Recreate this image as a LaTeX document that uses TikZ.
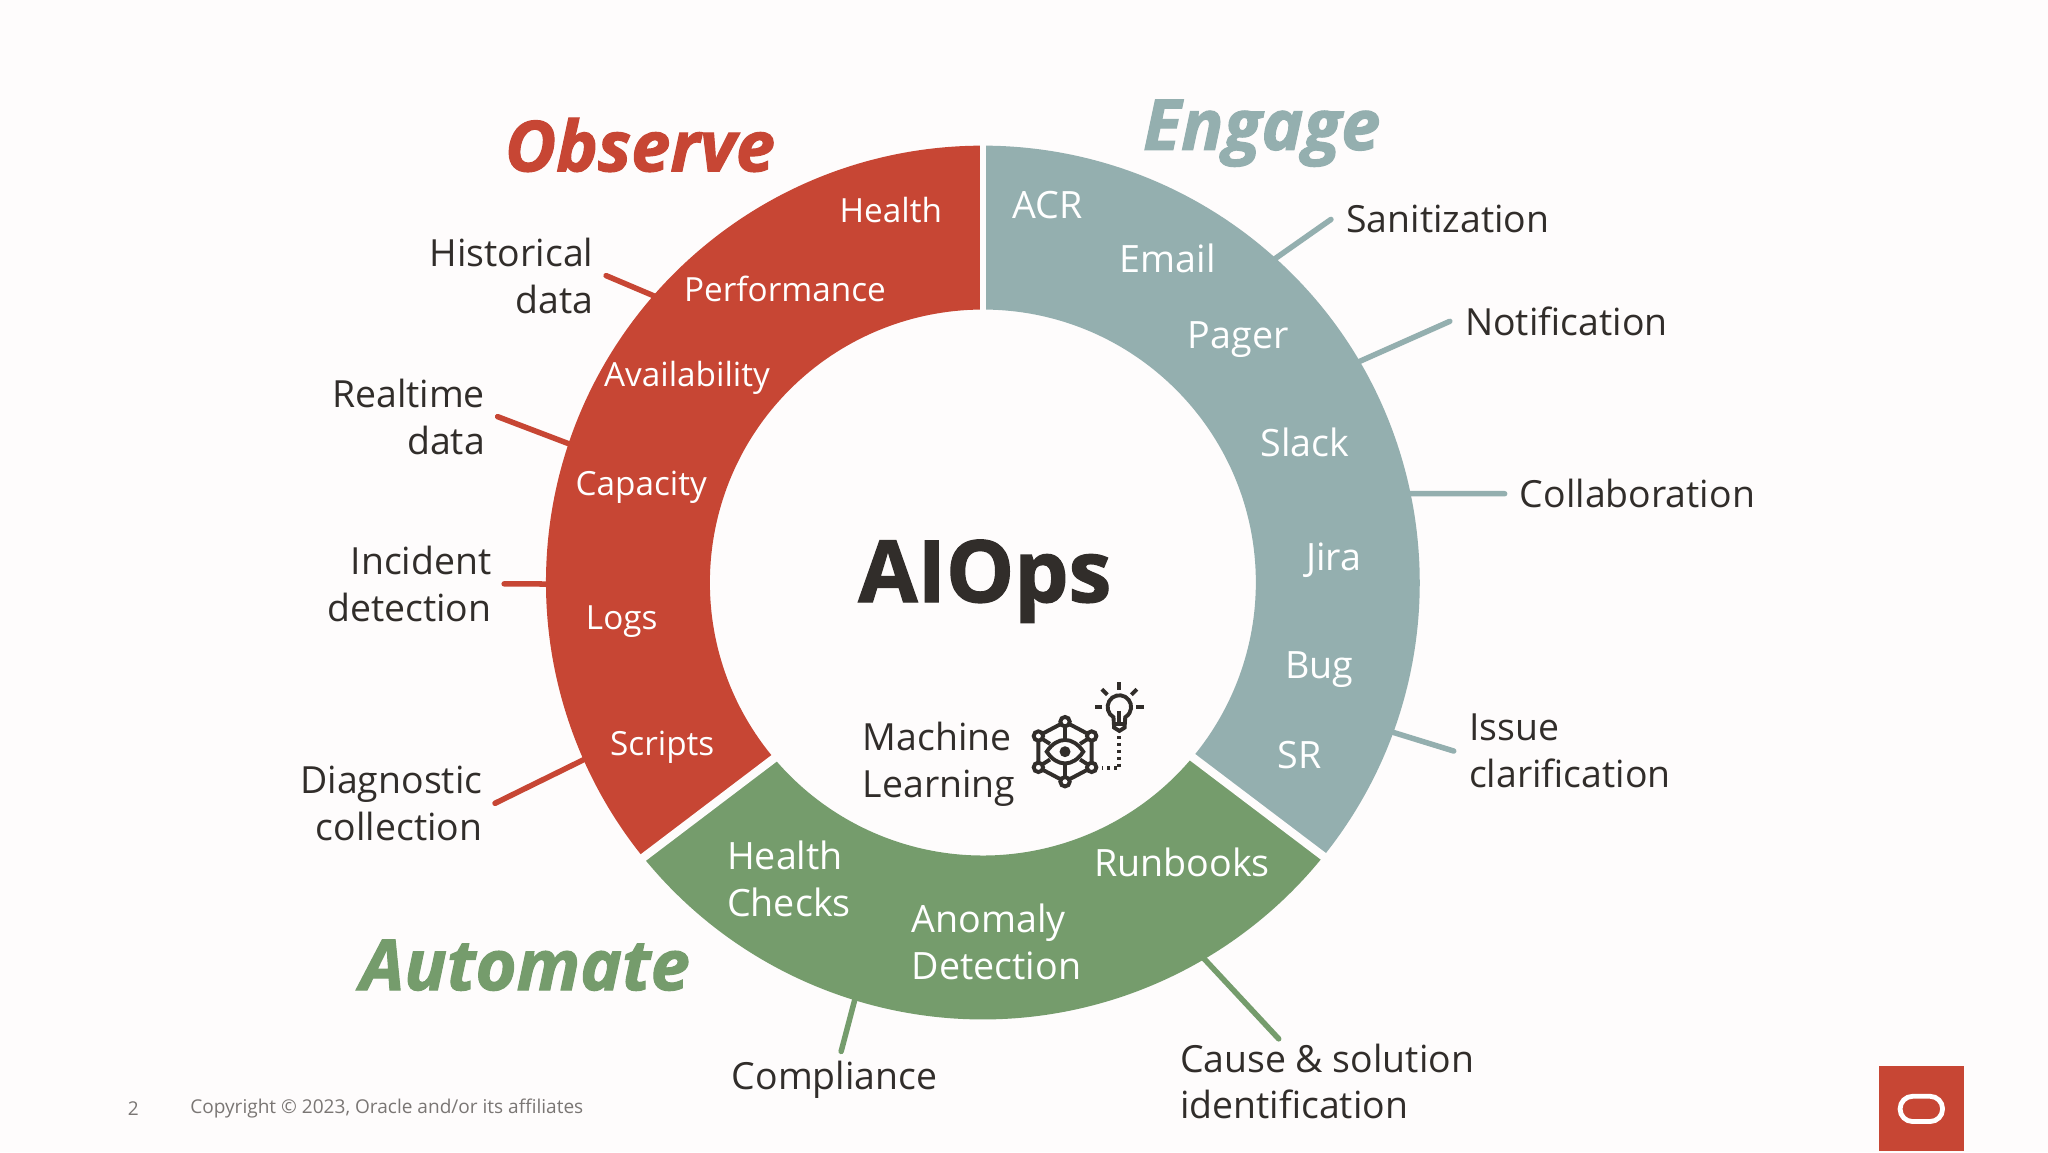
\documentclass[tikz,border=0pt]{standalone}
\usepackage{fontspec}
\setmainfont[BoldFeatures={FakeBold=1.6},BoldItalicFeatures={FakeBold=1.6}]{Open Sans}
\usetikzlibrary{calc}
\definecolor{cbg}{RGB}{254,252,252}
\definecolor{cred}{RGB}{199,70,52}
\definecolor{cteal}{RGB}{148,175,175}
\definecolor{cgreen}{RGB}{117,156,108}
\definecolor{cdark}{RGB}{49,45,42}
\definecolor{cgray}{RGB}{122,118,116}
\tikzset{
  seglbl/.style={text=white,font=\fontsize{8.2}{10.2}\selectfont,align=left,inner sep=0pt},
  redlbl/.style={seglbl,font=\fontsize{7.25}{10.2}\selectfont},
  outlbl/.style={text=cdark,font=\fontsize{8.15}{10.2}\selectfont,inner xsep=0.11cm,inner ysep=0pt},
  leftlbl/.style={outlbl,anchor=east,align=right,inner xsep=0.09cm},
  titlelbl/.style={font=\fontsize{15.3}{18}\selectfont\bfseries\itshape,inner sep=0pt},
  ticked/.style={line width=1.2pt,line cap=round},
  iconline/.style={cdark,line width=0.85pt},
}
\newcommand{\ringseg}[5]{%
  \fill[#1] ($(ring)+(#2:3.345)$) arc[start angle=#2,end angle=#3,radius=3.345]
    -- ($(ring)+(#5:2.09)$) arc[start angle=#5,end angle=#4,radius=2.09] -- cycle;}

\begin{document}
\begin{tikzpicture}
\useasboundingbox (0,0) rectangle (15.68,8.82);
\fill[cbg] (0,0) rectangle (15.68,8.82);
\coordinate (ring) at (7.525,4.36);

% ===== OUTSIDE LABELS =====
\node[leftlbl] (historical) at (4.64,6.71) {Historical\\data};
\node[leftlbl] (realtime) at (3.81,5.63) {Realtime\\data};
\node[leftlbl] (incident) at (3.86,4.35) {Incident\\detection};
\node[leftlbl] (diagnostic) at (3.79,2.67) {Diagnostic\\collection};
\node[outlbl,anchor=west] (sanitization) at (10.19,7.14) {Sanitization};
\node[outlbl,anchor=west] (notification) at (11.10,6.36) {Notification};
\node[outlbl,anchor=west] (collaboration) at (11.52,5.04) {Collaboration};
\node[outlbl,anchor=west,align=left] (issue) at (11.13,3.07) {Issue\\clarification};
\node[outlbl] (compliance) at (6.39,0.55) {Compliance};
\node[outlbl,align=left] (cause) at (10.16,0.54) {Cause \& solution\\identification};
\coordinate (compliancetip) at ($(compliance.north)+(0.05,0.07)$);
\coordinate (causetip) at ($(cause.north)+(-0.37,0.03)$);

% ===== TICKS (under the ring) =====
\foreach \from/\ang/\col in {historical.east/138.7/cred,realtime.east/161.5/cred,
    incident.east/180.2/cred,diagnostic.east/203.9/cred,
    sanitization.west/48.1/cteal,notification.west/30.5/cteal,collaboration.west/11.9/cteal,
    issue.west/-20.1/cteal,compliancetip/252.9/cgreen,causetip/-59.7/cgreen}
  \draw[ticked,\col] (\from) -- ($(ring)+(\ang:3.3)$);

% ===== RING =====
\ringseg{cred}{90}{219}{90}{220.1}
\ringseg{cgreen}{219}{321.2}{220.1}{320.2}
\ringseg{cteal}{321.2}{450}{320.2}{450}
\foreach \ai/\ao/\wd in {90/90/1.4pt,220.1/219/1.8pt,-39.8/-38.8/1.8pt}
  \draw[cbg,line width=\wd,shorten <=-0.1cm,shorten >=-0.1cm] ($(ring)+(\ai:2.09)$) -- ($(ring)+(\ao:3.345)$);

% ===== SEGMENT LABELS =====
\node[redlbl] (health) at (6.82,7.21) {Health};
\node[redlbl] (performance) at (6.01,6.61) {Performance};
\node[redlbl] (availability) at (5.26,5.925) {Availability};
\node[redlbl] (capacity) at (4.91,5.09) {Capacity};
\node[redlbl] (logs) at (4.76,4.06) {Logs};
\node[redlbl] (scripts) at (5.07,3.10) {Scripts};
\node[seglbl] (acr) at (8.02,7.25) {ACR};
\node[seglbl] (email) at (8.94,6.84) {Email};
\node[seglbl] (pager) at (9.48,6.22) {Pager};
\node[seglbl] (slack) at (9.99,5.43) {Slack};
\node[seglbl] (jira) at (10.21,4.53) {Jira};
\node[seglbl] (bug) at (10.10,3.69) {Bug};
\node[seglbl] (sr) at (9.95,3.04) {SR};
\node[seglbl] (checks) at (6.04,2.09) {Health\\Checks};
\node[seglbl] (anomaly) at (7.63,1.61) {Anomaly\\Detection};
\node[seglbl] (runbooks) at (9.05,2.22) {Runbooks};

% ===== TITLES =====
\node[titlelbl,cred] (observe) at (4.90,7.71) {Observe};
\node[titlelbl,cteal] (engage) at (9.66,7.80) {Engage};
\node[titlelbl,cgreen] (automate) at (4.02,1.43) {Automate};
\node[cdark,font=\fontsize{18.7}{22}\selectfont\bfseries,inner sep=0pt] (aiops) at (7.54,4.37) {AIOps};
\node[outlbl,align=left,inner sep=0pt] (machine) at (7.19,2.97) {Machine\\Learning};

% ===== ML ICON =====
\begin{scope}[shift={(8.154,3.065)}]
  \foreach \p in {(0,0.23),(0.204,0.12),(0.204,-0.12),(0,-0.23),(-0.204,-0.12),(-0.204,0.12)}
    \draw[iconline] \p circle (0.036);
  \draw[iconline] (0,0.196)--(0,0.09) (0,-0.196)--(0,-0.09)
    (0.03,0.213)--(0.174,0.137) (-0.03,0.213)--(-0.174,0.137)
    (0.03,-0.213)--(0.174,-0.137) (-0.03,-0.213)--(-0.174,-0.137)
    (0.204,0.086)--(0.204,-0.086) (-0.204,0.086)--(-0.204,-0.086)
    (0.178,0.1)--(0.115,0.06) (-0.178,0.1)--(-0.115,0.06)
    (0.178,-0.1)--(0.115,-0.06) (-0.178,-0.1)--(-0.115,-0.06);
  \draw[iconline] (-0.14,0) .. controls (-0.06,0.12) and (0.06,0.12) .. (0.14,0)
    .. controls (0.06,-0.12) and (-0.06,-0.12) .. (-0.14,0) -- cycle;
  \fill[cdark] (0,0) circle (0.042);
  \begin{scope}[shift={(0.416,0.344)}]
    \draw[iconline] (-0.045,-0.08) arc[start angle=240,end angle=-60,radius=0.09]
      -- (0.04,-0.16) -- (0,-0.185) -- (-0.04,-0.16) -- cycle;
    \draw[iconline] (0,-0.03)--(0,-0.13) (-0.04,-0.13)--(0.04,-0.13);
    \foreach \a in {0,45,90,135,180}
      \draw[iconline] (\a:0.13)--(\a:0.19);
  \end{scope}
  \draw[iconline,dash pattern=on 0.025cm off 0.028cm] (0.416,0.12)--(0.416,-0.128)--(0.28,-0.128);
\end{scope}

% ===== FOOTER =====
\node[text=cgray,font=\fontsize{4.15}{6}\selectfont,inner sep=0pt] (pagenum) at (1.02,0.33) {2};
\node[text=cgray,font=\fontsize{4.15}{6}\selectfont,inner sep=0pt,anchor=west] (copyright) at (1.45,0.33) {Copyright © 2023, Oracle and/or its affiliates};
\node[fill=cred,minimum width=0.65cm,minimum height=0.65cm,inner sep=0pt,anchor=south west] (logo) at (14.38,0) {};
\node[draw=white,line width=1.05pt,rounded corners=0.095cm,minimum width=0.325cm,minimum height=0.193cm,inner sep=0pt] (logoring) at (14.71,0.33) {};
\end{tikzpicture}
\end{document}
